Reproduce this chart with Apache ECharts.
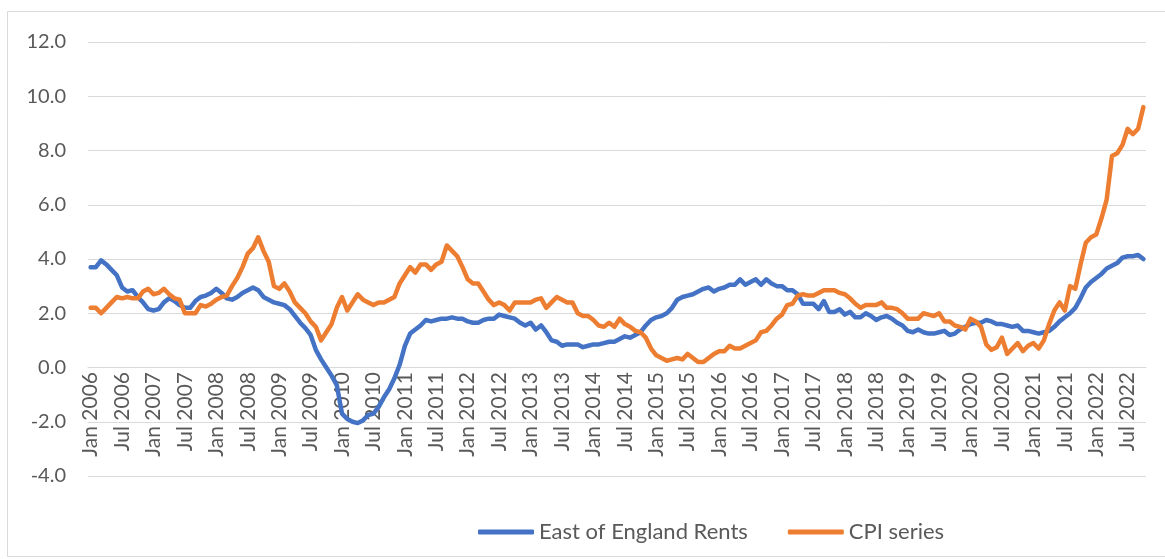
<!DOCTYPE html>
<html>
<head>
<meta charset="utf-8">
<script src="https://cdn.jsdelivr.net/npm/echarts@6.0.0/dist/echarts.min.js"></script>
<style>
  html, body { margin: 0; padding: 0; background: #fff; }
  #chart { width: 1165px; height: 559px; }
</style>
</head>
<body>
<div id="chart"></div>
<script>
// monthly series, Jan 2006 .. Oct 2022
var monthNames = ['Jan','Feb','Mar','Apr','May','Jun','Jul','Aug','Sep','Oct','Nov','Dec'];
var firstYear = 2006;
var yTicks = [-4, 12, 2];

var rents = [
  3.7,3.7,3.95,3.8,3.6,3.4,2.95,2.8,2.85,2.6,2.4,2.15,
  2.1,2.15,2.4,2.55,2.45,2.3,2.2,2.2,2.45,2.6,2.65,2.75,
  2.9,2.75,2.55,2.5,2.6,2.75,2.85,2.95,2.85,2.6,2.5,2.4,
  2.35,2.3,2.15,1.9,1.65,1.45,1.2,0.65,0.3,0.0,-0.3,-0.65,
  -1.7,-1.9,-2.0,-2.05,-1.95,-1.75,-1.7,-1.45,-1.1,-0.8,-0.4,0.1,
  0.8,1.25,1.4,1.55,1.75,1.7,1.75,1.8,1.8,1.85,1.8,1.8,
  1.7,1.65,1.65,1.75,1.8,1.8,1.95,1.9,1.85,1.8,1.65,1.55,
  1.65,1.4,1.55,1.3,1.0,0.95,0.8,0.85,0.85,0.85,0.75,0.8,
  0.85,0.85,0.9,0.95,0.95,1.05,1.15,1.1,1.2,1.3,1.55,1.75,
  1.85,1.9,2.0,2.2,2.5,2.6,2.65,2.7,2.8,2.9,2.95,2.8,
  2.9,2.95,3.05,3.05,3.25,3.05,3.15,3.25,3.05,3.25,3.1,3.0,
  3.0,2.85,2.85,2.7,2.35,2.35,2.35,2.15,2.45,2.05,2.05,2.15,
  1.95,2.05,1.85,1.85,2.0,1.9,1.75,1.85,1.9,1.8,1.65,1.55,
  1.35,1.3,1.4,1.3,1.25,1.25,1.3,1.35,1.2,1.25,1.4,1.5,
  1.6,1.65,1.65,1.75,1.7,1.6,1.6,1.55,1.5,1.55,1.35,1.35,
  1.3,1.25,1.3,1.35,1.5,1.7,1.85,2.0,2.2,2.55,2.95,3.15,
  3.3,3.45,3.65,3.75,3.85,4.05,4.1,4.1,4.15,4.0
];

var cpi = [
  2.2,2.2,2.0,2.2,2.4,2.6,2.55,2.6,2.55,2.55,2.8,2.9,
  2.7,2.75,2.9,2.7,2.55,2.5,2.0,2.0,2.0,2.3,2.25,2.35,
  2.5,2.6,2.65,3.0,3.3,3.7,4.2,4.4,4.8,4.3,3.9,3.0,
  2.9,3.1,2.8,2.4,2.2,2.0,1.7,1.5,1.0,1.3,1.6,2.2,
  2.6,2.1,2.4,2.7,2.5,2.4,2.3,2.4,2.4,2.5,2.6,3.1,
  3.4,3.7,3.5,3.8,3.8,3.6,3.8,3.9,4.5,4.3,4.1,3.7,
  3.25,3.1,3.1,2.8,2.5,2.3,2.4,2.3,2.1,2.4,2.4,2.4,
  2.4,2.5,2.55,2.2,2.4,2.6,2.5,2.4,2.4,2.0,1.9,1.9,
  1.75,1.55,1.5,1.65,1.5,1.8,1.6,1.5,1.35,1.3,1.1,0.7,
  0.45,0.35,0.25,0.3,0.35,0.3,0.5,0.35,0.2,0.2,0.35,0.5,
  0.6,0.6,0.8,0.7,0.7,0.8,0.9,1.0,1.3,1.35,1.55,1.8,
  1.95,2.3,2.35,2.65,2.7,2.65,2.65,2.75,2.85,2.85,2.85,2.75,
  2.7,2.55,2.35,2.2,2.3,2.3,2.3,2.4,2.2,2.2,2.15,2.0,
  1.8,1.8,1.8,2.0,1.95,1.9,2.0,1.7,1.7,1.55,1.5,1.4,
  1.8,1.7,1.5,0.85,0.65,0.75,1.1,0.5,0.7,0.9,0.6,0.8,
  0.9,0.7,1.0,1.6,2.1,2.4,2.1,3.0,2.9,3.8,4.6,4.8,
  4.9,5.5,6.2,7.8,7.9,8.2,8.8,8.6,8.8,9.6
];

var categories = [];
for (var i = 0; i < rents.length; i++) {
  categories.push(monthNames[i % 12] + ' ' + (firstYear + Math.floor(i / 12)));
}

var font = 'Lato, "Liberation Sans", sans-serif';
var grey = '#595959';

var chart = echarts.init(document.getElementById('chart'));
var option = {
  animation: false,
  backgroundColor: '#fff',
  graphic: [{
    type: 'rect',
    shape: { x: 7.5, y: 11.5, width: 1170, height: 545 },
    style: { fill: 'none', stroke: '#d9d9d9', lineWidth: 1 },
    silent: true
  }],
  grid: { left: 88, right: 19, top: 42, bottom: 83 },
  legend: {
    top: 516,
    left: 473,
    itemWidth: 56,
    itemHeight: 5,
    itemGap: 40,
    icon: 'roundRect',
    textStyle: { fontFamily: font, fontSize: 22, color: grey },
    data: ['East of England Rents', 'CPI series']
  },
  xAxis: {
    type: 'category',
    data: categories,
    boundaryGap: true,
    offset: -109,
    axisLine: { show: true, onZero: false, lineStyle: { color: '#d9d9d9', width: 1 } },
    axisTick: { show: false },
    axisLabel: {
      interval: 5,
      rotate: 90,
      margin: 5,
      fontFamily: font,
      fontSize: 21,
      color: grey
    }
  },
  yAxis: {
    type: 'value',
    min: yTicks[0],
    max: yTicks[1],
    interval: yTicks[2],
    axisLine: { show: false },
    axisTick: { show: false },
    splitLine: { lineStyle: { color: '#d9d9d9', width: 1 } },
    axisLabel: {
      margin: 22,
      fontFamily: font,
      fontSize: 20,
      color: grey,
      formatter: function (v) { return v.toFixed(1); }
    }
  },
  series: [
    {
      name: 'East of England Rents',
      type: 'line',
      data: rents,
      showSymbol: false,
      color: '#4472C4',
      lineStyle: { width: 4.5, color: '#4472C4', cap: 'round', join: 'round' }
    },
    {
      name: 'CPI series',
      type: 'line',
      data: cpi,
      showSymbol: false,
      color: '#ED7D31',
      lineStyle: { width: 4.5, color: '#ED7D31', cap: 'round', join: 'round' }
    }
  ]
};
chart.setOption(option);
</script>
</body>
</html>
